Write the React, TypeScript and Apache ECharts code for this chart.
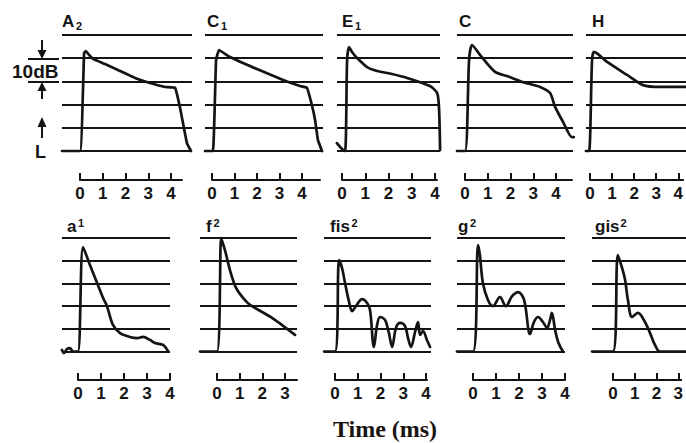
import React, { useEffect, useRef } from 'react';
import * as echarts from 'echarts';

// ---- Data: [time (ms), level (dB above the lowest line)] ----
const curveA2 = [[-0.79,0],[0,0],[0.18,42.2],[0.26,43.1],[0.40,41.4],[0.57,39.7],[1.10,37.5],[1.76,34.5],[2.42,31.5],[3.08,29.3],[3.74,27.6],[4.18,27.2],[4.40,18.5],[4.70,3.4],[4.88,0]];
const curveC1 = [[-0.31,0],[0.04,0],[0.18,39],[0.31,43.5],[0.8,40.5],[2.0,35.3],[3.16,30.6],[3.91,28],[4.22,27.2],[4.44,19.8],[4.58,13.4],[4.71,4.7],[4.89,0]];
const curveE1 = [[-0.22,3.4],[-0.04,1.3],[0.13,0],[0.22,39.2],[0.30,44.8],[0.43,42.7],[0.65,40.1],[1.08,36.2],[1.51,34.5],[2.15,33.2],[2.8,31.5],[3.78,28],[4.09,25],[4.17,19],[4.22,0.4]];
const curveC = [[-0.35,0],[0,0],[0.18,39.2],[0.31,45.7],[0.66,41.4],[1.32,34.1],[1.85,32.3],[2.55,29.7],[3.30,27.6],[3.74,25],[3.96,19],[4.31,12.5],[4.70,6],[4.79,6]];
const curveH = [[-0.18,0],[-0.04,0],[0.09,39.2],[0.18,42.7],[0.75,38.4],[1.63,32.8],[2.33,28.4],[3.08,27.6],[4.22,27.6]];
const curveA1 = [[-0.70,0.7],[-0.61,-0.7],[-0.48,1.1],[-0.35,1.5],[-0.22,0],[0,0],[0.22,46],[0.52,38.1],[0.83,30.2],[1.09,23.6],[1.26,20],[1.52,11.7],[1.83,8.1],[2.26,6.4],[2.57,5.9],[2.83,6.4],[3.13,5.1],[3.35,3.7],[3.70,2.9],[3.91,0.2]];
const curveF2 = [[-0.75,0],[0,0],[0.18,50],[0.35,44.7],[0.57,35.9],[0.84,28],[1.15,23.6],[1.46,20.5],[2.43,14.8],[3.44,7.3]];
const curveFis2 = [[-0.48,0],[0,0],[0.18,40.3],[0.31,36.8],[0.44,30.2],[0.62,21.8],[0.75,17.8],[0.92,20],[1.19,23.1],[1.41,21.4],[1.54,18.3],[1.71,2],[1.85,11.7],[1.98,15.2],[2.20,13.9],[2.37,8.1],[2.51,2],[2.68,10.4],[2.86,12.6],[3.08,11.2],[3.21,5.9],[3.34,2],[3.52,8.6],[3.65,13],[3.74,7.3],[3.87,9],[4.04,5.1],[4.18,2]];
const curveG2 = [[-0.70,0],[0,0],[0.22,46.9],[0.30,42.5],[0.43,30.2],[0.65,22.7],[0.87,20],[1.17,24],[1.43,20],[1.70,24.4],[1.96,26.2],[2.22,22.7],[2.48,7.7],[2.65,13],[2.83,15.2],[3.04,13],[3.22,10.4],[3.35,13.9],[3.43,17],[3.57,9.5],[3.70,4.2],[3.91,0]];
const curveGis2 = [[-0.90,0],[0,0],[0.21,42.5],[0.39,36.8],[0.52,31.5],[0.64,22.7],[0.82,15.2],[1.07,17],[1.37,13],[1.59,8.1],[1.80,2.9],[2.02,0],[3.13,0]];

const timeTicks = [0, 1, 2, 3, 4];
const levelLines = { min: 0, max: 50, step: 10 };
const panelNames = ['A', 'C', 'E', 'C', 'H', 'a', 'f', 'fis', 'g', 'gis'];
const panelScripts = ['2', '1', '1', '', '', '1', '2', '2', '2', '2'];
const xAxisTitle = 'Time (ms)';

// ---- Layout (pixels) ----
const rows = [
  { top: 35, bottom: 151, axisY: 180, titleBase: 27 },
  { top: 238, bottom: 351.5, axisY: 380, titleBase: 232 },
];
const layout = [
  { row: 0, x0: 80, k: 22.75, ls: 62, le: 192, ae: 182, tx: 62, sx: 76, sup: false, smooth: 0.1 },
  { row: 0, x0: 212, k: 22.5, ls: 205, le: 323, ae: 320, tx: 207, sx: 221, sup: false, smooth: 0.1 },
  { row: 0, x0: 342, k: 23.25, ls: 337, le: 440, ae: 437, tx: 342, sx: 355, sup: false, smooth: 0.25 },
  { row: 0, x0: 465, k: 22.75, ls: 457, le: 573, ae: 572, tx: 459, sx: 0, sup: false, smooth: 0.25 },
  { row: 0, x0: 590, k: 22.75, ls: 586, le: 686, ae: 686, tx: 592, sx: 0, sup: false, smooth: 0.25 },
  { row: 1, x0: 78, k: 23, ls: 62, le: 170, ae: 170, tx: 67, sx: 78, sup: true, smooth: 0.3 },
  { row: 1, x0: 217, k: 22.67, ls: 200, le: 297, ae: 297, tx: 206, sx: 213.5, sup: true, smooth: 0.2 },
  { row: 1, x0: 335, k: 22.75, ls: 324, le: 431, ae: 427, tx: 330, sx: 351.5, sup: true, smooth: 0.35 },
  { row: 1, x0: 473, k: 23, ls: 457, le: 565, ae: 565, tx: 458, sx: 470, sup: true, smooth: 0.35 },
  { row: 1, x0: 613, k: 23.3, ls: 592, le: 686, ae: 686, tx: 595, sx: 620.5, sup: true, smooth: 0.35 },
];
const curves = [curveA2, curveC1, curveE1, curveC, curveH, curveA1, curveF2, curveFis2, curveG2, curveGis2];

const INK = '#141414';
const SANS = '"Liberation Sans", Arial, sans-serif';

export default function App() {
  const ref = useRef<HTMLDivElement>(null);
  useEffect(() => {
    if (!ref.current) return;
    const chart = echarts.init(ref.current, null, { renderer: 'svg' });
    const grid: any[] = [];
    const xAxis: any[] = [];
    const yAxis: any[] = [];
    const series: any[] = [];
    const graphic: any[] = [];

    layout.forEach((p, i) => {
      const r = rows[p.row];
      const gMain = grid.length;
      grid.push({ left: p.ls, top: r.top, width: p.le - p.ls, height: r.bottom - r.top });
      xAxis.push({ gridIndex: gMain, type: 'value', min: (p.ls - p.x0) / p.k, max: (p.le - p.x0) / p.k, show: false });
      yAxis.push({
        gridIndex: gMain, type: 'value', min: levelLines.min, max: levelLines.max, interval: levelLines.step,
        axisLine: { show: false }, axisTick: { show: false }, axisLabel: { show: false },
        splitLine: { show: true, lineStyle: { color: INK, width: 2 } },
      });
      series.push({
        type: 'line', xAxisIndex: gMain, yAxisIndex: gMain, data: curves[i], symbol: 'none',
        smooth: p.smooth, clip: false, silent: true,
        lineStyle: { color: INK, width: 2.7, join: 'round', cap: 'round' },
      });

      const gAx = grid.length;
      const axMax = (p.ae - p.x0) / p.k;
      const ticks = timeTicks.filter((t) => t <= axMax + 0.02);
      grid.push({ left: p.x0, top: r.axisY - 10, width: p.ae - p.x0, height: 10 });
      xAxis.push({
        gridIndex: gAx, type: 'value', min: 0, max: axMax, position: 'bottom',
        axisLine: { show: true, lineStyle: { color: INK, width: 2 } },
        axisTick: { show: true, inside: true, length: 7, lineStyle: { color: INK, width: 2 }, customValues: ticks },
        axisLabel: { show: true, customValues: ticks, fontSize: 17, fontWeight: 'bold', fontFamily: SANS, color: INK, margin: 5 },
        splitLine: { show: false },
      });
      yAxis.push({ gridIndex: gAx, type: 'value', min: 0, max: 1, show: false });

      // panel title
      graphic.push({
        type: 'text', x: p.tx, y: r.titleBase + 3, silent: true,
        style: { text: panelNames[i], font: `bold 17px ${SANS}`, fill: INK, verticalAlign: 'bottom' },
      });
      if (panelScripts[i]) {
        graphic.push({
          type: 'text', x: p.sx, y: p.sup ? r.titleBase - 4 : r.titleBase + 4, silent: true,
          style: { text: panelScripts[i], font: `bold 11px ${SANS}`, fill: INK, verticalAlign: 'bottom' },
        });
      }
    });

    // left annotation: 10 dB scale and level arrow
    graphic.push(
      { type: 'line', shape: { x1: 28, y1: 59, x2: 59, y2: 59 }, style: { stroke: INK, lineWidth: 2 } },
      { type: 'line', shape: { x1: 28, y1: 82, x2: 59, y2: 82 }, style: { stroke: INK, lineWidth: 2 } },
      { type: 'line', shape: { x1: 42, y1: 40, x2: 42, y2: 52 }, style: { stroke: INK, lineWidth: 2 } },
      { type: 'polygon', shape: { points: [[37.5, 50], [46.5, 50], [42, 59]] }, style: { fill: INK } },
      { type: 'line', shape: { x1: 42, y1: 89, x2: 42, y2: 99 }, style: { stroke: INK, lineWidth: 2 } },
      { type: 'polygon', shape: { points: [[37.5, 91], [46.5, 91], [42, 82]] }, style: { fill: INK } },
      { type: 'text', x: 12, y: 71, style: { text: '10dB', font: `bold 19px ${SANS}`, fill: INK, verticalAlign: 'middle' } },
      { type: 'line', shape: { x1: 42, y1: 125, x2: 42, y2: 138 }, style: { stroke: INK, lineWidth: 2 } },
      { type: 'polygon', shape: { points: [[37.5, 127], [46.5, 127], [42, 117]] }, style: { fill: INK } },
      { type: 'text', x: 35, y: 152, style: { text: 'L', font: `bold 18px ${SANS}`, fill: INK, verticalAlign: 'middle' } },
      {
        type: 'text', x: 385, y: 429,
        style: { text: xAxisTitle, font: 'bold 24px "Liberation Serif", "Times New Roman", serif', fill: '#1a1410', align: 'center', verticalAlign: 'middle' },
      },
    );

    chart.setOption({
      animation: false,
      backgroundColor: '#ffffff',
      grid, xAxis, yAxis, series, graphic,
    });
    return () => chart.dispose();
  }, []);
  return <div ref={ref} style={{ position: 'fixed', left: 0, top: 0, width: 686, height: 443 }} />;
}
